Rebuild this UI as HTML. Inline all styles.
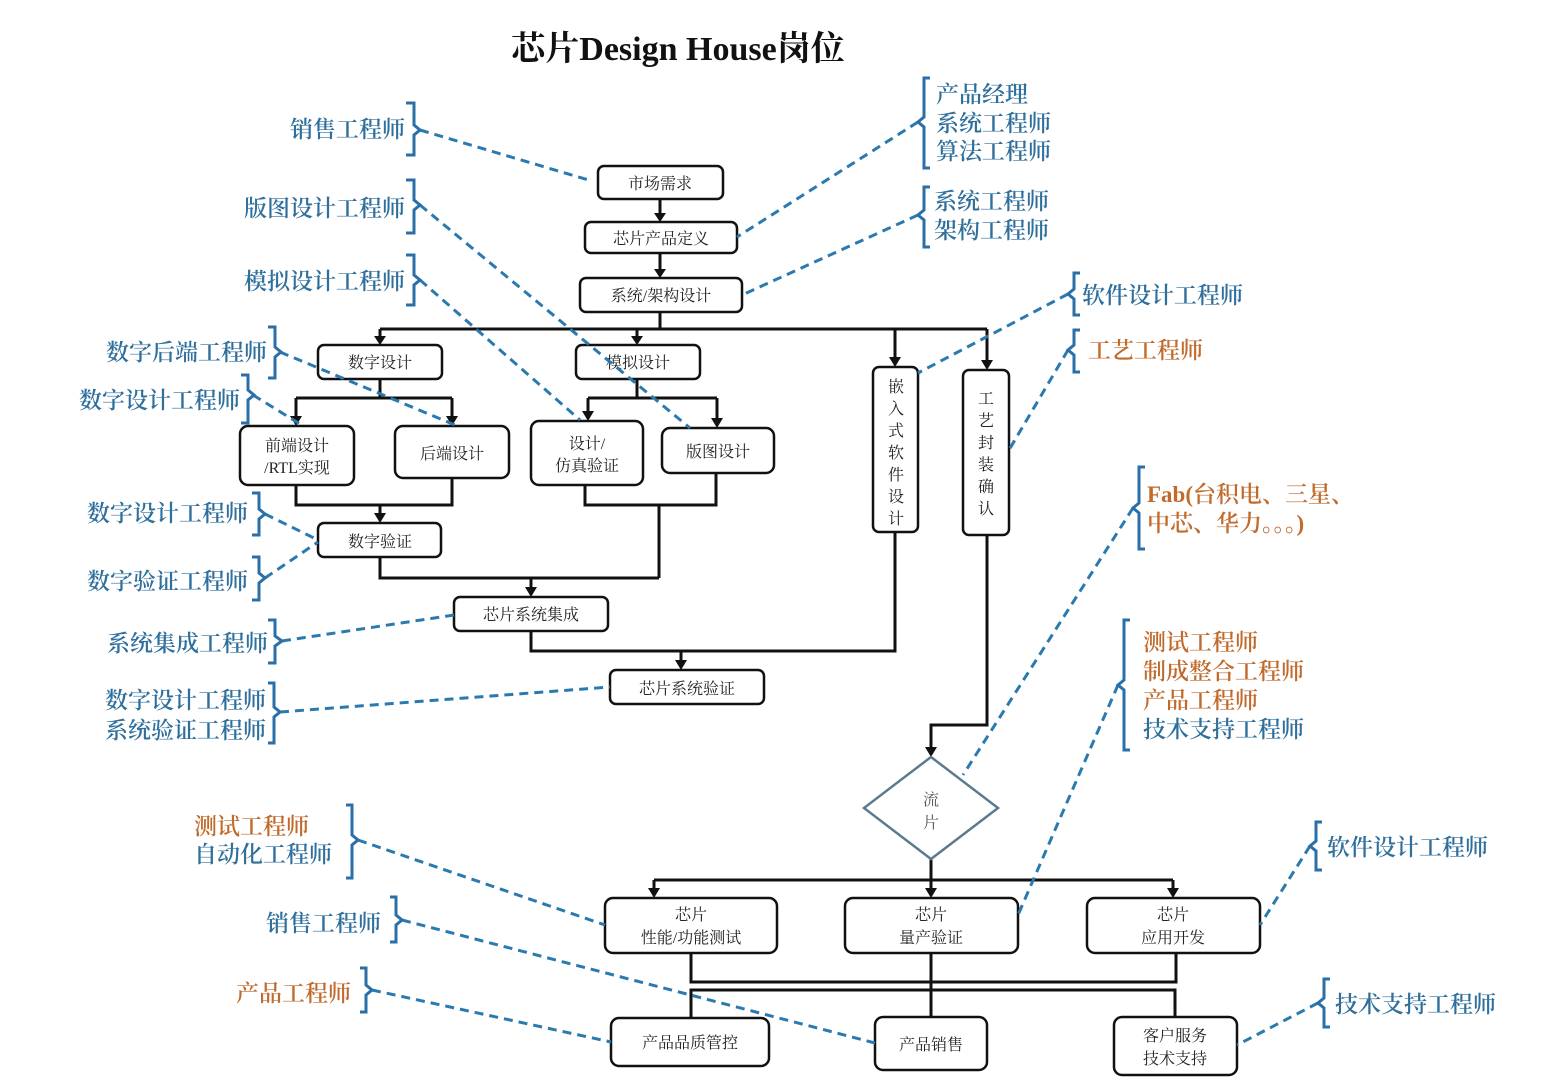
<!DOCTYPE html>
<html><head><meta charset="utf-8"><style>
html,body{margin:0;padding:0;background:#fff;}
svg{display:block;}
.t{font-family:"Liberation Serif","Noto Serif CJK SC",serif;font-size:23px;font-weight:600;fill:#2f6f9c;}
.o{fill:#c06a2b;}
.b{font-family:"Liberation Serif","Noto Serif CJK SC",serif;font-size:16px;fill:#222;text-anchor:middle;}
.box{fill:#fff;stroke:#111;stroke-width:2.5;}
.ln{fill:none;stroke:#111;stroke-width:3;}
.d{fill:none;stroke:#2a7ab0;stroke-width:3;stroke-dasharray:9,6;}
.br{fill:none;stroke:#2a6fa8;stroke-width:3;}
</style></head><body>
<svg width="1566" height="1080" viewBox="0 0 1566 1080" xmlns="http://www.w3.org/2000/svg">
<defs><marker id="a" markerWidth="10" markerHeight="10" refX="5" refY="8" orient="auto" markerUnits="userSpaceOnUse"><path d="M0,0 L10,0 L5,10 z" fill="#111" transform="rotate(-90 5 5) translate(0,0)"/></marker></defs>
<text x="678" y="60" text-anchor="middle" style="font-family:'Liberation Serif','Noto Serif CJK SC',serif;font-size:34px;font-weight:bold;fill:#111">芯片Design House岗位</text>

<!-- connectors -->
<g class="ln">
<path d="M660 199V213"/><path d="M660 253V269"/><path d="M660 312V329"/>
<path d="M380 329H987"/>
<path d="M380 329V337"/><path d="M637 329V337"/><path d="M895 329V358"/><path d="M987 329V361"/>
<path d="M380 379V398M296 398H452M296 398V417M452 398V417"/>
<path d="M637 379V398M588 398H717M588 398V412M717 398V419"/>
<path d="M296 485V505H452V478M380 505V514"/>
<path d="M585 485V505H716V473M659 505V578"/>
<path d="M380 557V578H659M531 578V588"/>
<path d="M531 631V651H895V532M681 651V661"/>
<path d="M987 535V725H931V748"/>
<path d="M931 859V880M654 880H1173M654 880V889M931 880V889M1173 880V889"/>
<path d="M691 953V982H1176V953"/>
<path d="M931 953V1017"/>
<path d="M691 1018V990H1175V1017"/>
</g>
<g fill="#111">
<path d="M654 213h12l-6 9z"/><path d="M654 269h12l-6 9z"/>
<path d="M374 336h12l-6 9z"/><path d="M631 336h12l-6 9z"/><path d="M889 357h12l-6 10z"/><path d="M981 360h12l-6 10z"/>
<path d="M290 416h12l-6 10z"/><path d="M446 416h12l-6 10z"/>
<path d="M582 411h12l-6 10z"/><path d="M711 418h12l-6 10z"/>
<path d="M374 513h12l-6 10z"/><path d="M525 587h12l-6 10z"/><path d="M675 660h12l-6 10z"/>
<path d="M925 747h12l-6 10z"/>
<path d="M648 888h12l-6 10z"/><path d="M925 888h12l-6 10z"/><path d="M1167 888h12l-6 10z"/>
</g>

<!-- boxes -->
<rect class="box" x="598" y="166" width="125" height="33" rx="6"/><text class="b" x="660" y="189">市场需求</text>
<rect class="box" x="585" y="222" width="152" height="31" rx="6"/><text class="b" x="661" y="244">芯片产品定义</text>
<rect class="box" x="580" y="278" width="162" height="34" rx="6"/><text class="b" x="661" y="301">系统/架构设计</text>
<rect class="box" x="318" y="345" width="124" height="34" rx="6"/><text class="b" x="380" y="368">数字设计</text>
<rect class="box" x="576" y="345" width="124" height="34" rx="6"/><text class="b" x="638" y="368">模拟设计</text>
<rect class="box" x="873" y="367" width="45" height="165" rx="6"/>
<text class="b" x="896" y="392">嵌</text><text class="b" x="896" y="414">入</text><text class="b" x="896" y="436">式</text><text class="b" x="896" y="458">软</text><text class="b" x="896" y="480">件</text><text class="b" x="896" y="502">设</text><text class="b" x="896" y="524">计</text>
<rect class="box" x="963" y="370" width="46" height="165" rx="6"/>
<text class="b" x="986" y="404">工</text><text class="b" x="986" y="426">艺</text><text class="b" x="986" y="448">封</text><text class="b" x="986" y="470">装</text><text class="b" x="986" y="492">确</text><text class="b" x="986" y="514">认</text>
<rect class="box" x="240" y="426" width="114" height="59" rx="8"/><text class="b" x="297" y="451">前端设计</text><text class="b" x="297" y="473">/RTL实现</text>
<rect class="box" x="395" y="426" width="114" height="52" rx="8"/><text class="b" x="452" y="459">后端设计</text>
<rect class="box" x="531" y="421" width="112" height="64" rx="8"/><text class="b" x="587" y="449">设计/</text><text class="b" x="587" y="471">仿真验证</text>
<rect class="box" x="662" y="428" width="112" height="45" rx="8"/><text class="b" x="718" y="457">版图设计</text>
<rect class="box" x="318" y="523" width="123" height="34" rx="6"/><text class="b" x="380" y="547">数字验证</text>
<rect class="box" x="454" y="597" width="154" height="34" rx="6"/><text class="b" x="531" y="620">芯片系统集成</text>
<rect class="box" x="610" y="670" width="154" height="34" rx="6"/><text class="b" x="687" y="694">芯片系统验证</text>
<path d="M931 757L998 808L931 859L864 808Z" fill="#fff" stroke="#5d7b90" stroke-width="2.5"/>
<text class="b" x="931" y="805" style="fill:#555">流</text><text class="b" x="931" y="828" style="fill:#555">片</text>
<rect class="box" x="605" y="898" width="172" height="55" rx="8"/><text class="b" x="691" y="920">芯片</text><text class="b" x="691" y="943">性能/功能测试</text>
<rect class="box" x="845" y="898" width="173" height="55" rx="8"/><text class="b" x="931" y="920">芯片</text><text class="b" x="931" y="943">量产验证</text>
<rect class="box" x="1087" y="898" width="173" height="55" rx="8"/><text class="b" x="1173" y="920">芯片</text><text class="b" x="1173" y="943">应用开发</text>
<rect class="box" x="611" y="1018" width="158" height="48" rx="8"/><text class="b" x="690" y="1048">产品品质管控</text>
<rect class="box" x="875" y="1017" width="112" height="53" rx="8"/><text class="b" x="931" y="1050">产品销售</text>
<rect class="box" x="1114" y="1017" width="123" height="58" rx="8"/><text class="b" x="1175" y="1041">客户服务</text><text class="b" x="1175" y="1064">技术支持</text>

<!-- dashed -->
<g class="d">
<path d="M420 130L592 181"/><path d="M420 205L690 428"/><path d="M420 280L580 420"/>
<path d="M280 352L455 425"/><path d="M253 395L300 424"/>
<path d="M265 514L318 540"/><path d="M265 578L318 542"/>
<path d="M282 641L454 615"/><path d="M280 712L610 687"/>
<path d="M358 840L605 925"/><path d="M402 920L875 1043"/><path d="M372 990L611 1042"/>
<path d="M918 122L737 237"/><path d="M918 215L742 295"/>
<path d="M1068 294L918 373"/><path d="M1068 350L1009 450"/>
<path d="M1133 508L963 775"/><path d="M1118 685L1018 915"/>
<path d="M1310 846L1260 925"/><path d="M1318 1003L1237 1045"/>
</g>

<!-- left brackets (}) -->
<g class="br">
<path d="M406 103H414V125L420 130L414 135V155H406"/>
<path d="M406 180H414V200L420 205L414 210V233H406"/>
<path d="M406 255H414V275L420 280L414 285V305H406"/>
<path d="M268 327H275V347L281 352L275 357V378H268"/>
<path d="M241 375H248V390L254 395L248 400V423H241"/>
<path d="M252 493H259V509L265 514L259 519V535H252"/>
<path d="M252 557H259V573L265 578L259 583V600H252"/>
<path d="M268 620H275V636L282 641L275 646V663H268"/>
<path d="M268 683H274V707L280 712L274 717V743H268"/>
<path d="M346 805H352V835L358 840L352 845V878H346"/>
<path d="M390 897H396V915L402 920L396 925V942H390"/>
<path d="M360 968H366V985L372 990L366 995V1012H360"/>
</g>
<!-- right brackets ({) -->
<g class="br">
<path d="M930 78H924V117L918 122L924 127V168H930"/>
<path d="M930 187H924V210L918 215L924 220V247H930"/>
<path d="M1080 273H1074V289L1068 294L1074 299V315H1080"/>
<path d="M1080 330H1074V345L1068 350L1074 355V372H1080"/>
<path d="M1145 467H1139V503L1133 508L1139 513V549H1145"/>
<path d="M1130 620H1124V680L1118 685L1124 690V750H1130"/>
<path d="M1322 822H1316V841L1310 846L1316 851V870H1322"/>
<path d="M1330 979H1324V998L1318 1003L1324 1008V1027H1330"/>
</g>

<!-- labels -->
<g class="t" text-anchor="end">
<text x="405" y="137">销售工程师</text>
<text x="405" y="216">版图设计工程师</text>
<text x="405" y="289">模拟设计工程师</text>
<text x="267" y="360">数字后端工程师</text>
<text x="240" y="408">数字设计工程师</text>
<text x="248" y="521">数字设计工程师</text>
<text x="248" y="589">数字验证工程师</text>
<text x="268" y="651">系统集成工程师</text>
<text x="266" y="708">数字设计工程师</text>
<text x="266" y="738">系统验证工程师</text>
<text x="381" y="931">销售工程师</text>
<text x="351" y="1001" class="t o">产品工程师</text>
</g>
<g class="t">
<text x="194" y="834" class="t o">测试工程师</text>
<text x="194" y="862">自动化工程师</text>
<text x="936" y="102">产品经理</text>
<text x="936" y="131">系统工程师</text>
<text x="936" y="159">算法工程师</text>
<text x="934" y="209">系统工程师</text>
<text x="934" y="238">架构工程师</text>
<text x="1082" y="303">软件设计工程师</text>
<text x="1088" y="358" class="t o">工艺工程师</text>
<text x="1147" y="502" class="t o">Fab(台积电、三星、</text>
<text x="1147" y="531" class="t o">中芯、华力。。。)</text>
<text x="1143" y="650" class="t o">测试工程师</text>
<text x="1143" y="679" class="t o">制成整合工程师</text>
<text x="1143" y="708" class="t o">产品工程师</text>
<text x="1143" y="737">技术支持工程师</text>
<text x="1327" y="855">软件设计工程师</text>
<text x="1335" y="1012">技术支持工程师</text>
</g>
</svg>
</body></html>
